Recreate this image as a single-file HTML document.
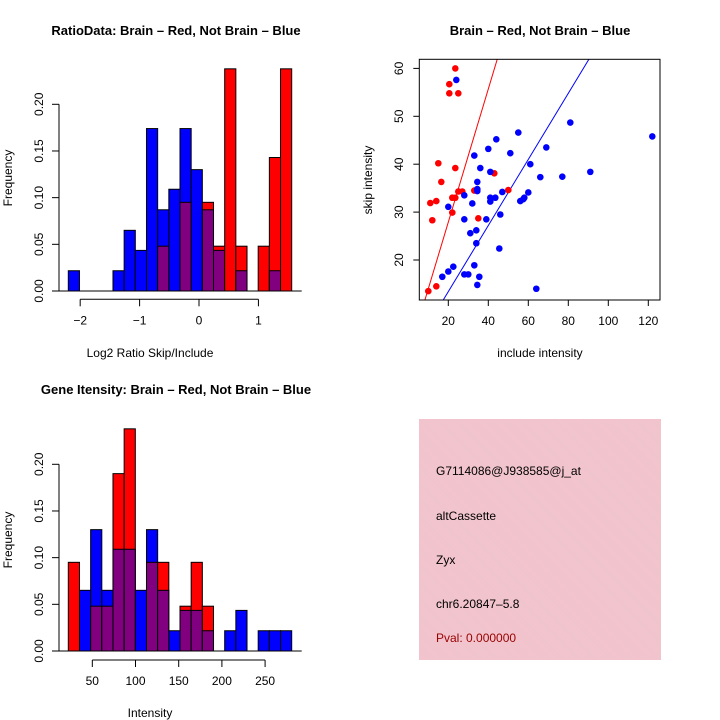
<!DOCTYPE html>
<html><head><meta charset="utf-8"><style>
body{margin:0;background:#fff;}
svg{display:block;font-family:"Liberation Sans",sans-serif;}
</style></head><body>
<svg id="c" width="720" height="720" xmlns="http://www.w3.org/2000/svg"></svg>
<script>
// Histogram 1: log2 ratio
const ratioBlue = [0.0217,0,0,0,0.0217,0.065,0.0435,0.174,0.087,0.109,0.174,0.130,0.087,0.0435,0,0.0217,0,0,0.0217,0];
const ratioRed  = [0,0,0,0,0,0,0,0,0.048,0,0.095,0,0.095,0.048,0.238,0.048,0,0.048,0.143,0.238];
const ratioStart = -2.2, ratioWidth = 0.188;
const ratioXTicks = [-2,-1,0,1];
// Histogram 2: intensity
const intBlue = [0,0.065,0.130,0.065,0.109,0.109,0.065,0.130,0.065,0.0217,0.0435,0.0435,0.0217,0,0.0217,0.0435,0,0.0217,0.0217,0.0217];
const intRed  = [0.095,0,0.048,0.048,0.190,0.238,0,0.095,0.095,0,0.048,0.095,0.048,0,0,0,0,0,0,0];
const intStart = 22.2, intWidth = 12.93;
const intXTicks = [50,100,150,200,250];
const freqTicks = [0,0.05,0.10,0.15,0.20];
const freqLabels = ["0.00","0.05","0.10","0.15","0.20"];
// Scatter
const redX = [23.5,20.5,20.5,25,15,23.5,16.5,43,25,27,33,50,22,23.5,11,14,12,22,35,10,14];
const redY = [60,56.7,54.8,54.8,40.2,39.2,36.3,38.1,34.3,34.3,34.5,34.6,33,33,31.9,32.3,28.3,29.9,28.7,13.5,14.5];
const blueX = [24,81,55,44,40,51,69,33,122,61,36,41,91,66,77,34.5,34.5,34.5,28,41,43.5,41,47,60,56,57.5,58,20,32,46,28,39,31,34,34,45.5,22.5,20,33,17,28,30,35.5,34.5,64];
const blueY = [57.6,48.7,46.6,45.2,43.2,42.3,43.5,41.8,45.8,40,39.2,38.4,38.4,37.3,37.4,36.3,34.8,34.4,33.5,33,33,32.2,34.2,34.1,32.3,32.7,33,31.1,31.8,29.5,28.5,28.5,25.6,26.2,23.5,22.4,18.6,17.6,18.9,16.5,17,17,16.5,14.8,14];
const redSlope = 1.39, redIntercept = 0.1;
const blueSlope = 0.69, blueIntercept = -0.4;
const scXTicks = [20,40,60,80,100,120];
const scYTicks = [20,30,40,50,60];

const svg = document.getElementById('c');
const NS = 'http://www.w3.org/2000/svg';
function mk(tag, attrs, parent){const e=document.createElementNS(NS,tag);for(const k in attrs)e.setAttribute(k,attrs[k]);(parent||svg).appendChild(e);return e;}
function txt(x,y,s,attrs){const e=mk('text',Object.assign({x:x,y:y,'font-size':12,'text-anchor':'middle',fill:'#000'},attrs||{}));e.textContent=s;return e;}

function hist(opts){
  const g = mk('g',{});
  
  
  const y0 = opts.y0, pxPerUnit = (opts.y0 - opts.y20)/0.20;
  const fy = v => y0 - v*pxPerUnit;
  const fx = v => opts.xPix0 + (v - opts.start)/opts.width*opts.binPx;
  for(let i=0;i<opts.blue.length;i++){
    const b=opts.blue[i], r=opts.red[i];
    const x = fx(opts.start + i*opts.width);
    const hi = Math.max(b,r), lo = Math.min(b,r);
    if(hi>0){
      const bar = mk('rect',{x:x,y:fy(hi),width:opts.binPx,height:fy(0)-fy(hi),fill:b>=r?'#0000ff':'#ff0000',stroke:'#000','stroke-width':1},g);
      
      
    }
    if(lo>0){
      const ov = mk('rect',{x:x,y:fy(lo),width:opts.binPx,height:fy(0)-fy(lo),fill:'#800080',stroke:'#000','stroke-width':1},g);
      
      
    }
  }
  mk('line',{x1:opts.xPix0-10,x2:opts.xPix0+opts.binPx*opts.blue.length+10,y1:y0,y2:y0,stroke:'#000'},g);
  mk('line',{x1:59,x2:59,y1:fy(0),y2:fy(0.2),stroke:'#000'},g);
  freqTicks.forEach((t,i)=>{
    mk('line',{x1:52,x2:59,y1:fy(t),y2:fy(t),stroke:'#000'},g);
    txt(0,0,freqLabels[i],{transform:`translate(43,${fy(t)}) rotate(-90)`});
  });
  const xa = opts.xaxisY;
  mk('line',{x1:fx(opts.xticks[0]),x2:fx(opts.xticks[opts.xticks.length-1]),y1:xa,y2:xa,stroke:'#000'},g);
  opts.xticks.forEach(t=>{
    mk('line',{x1:fx(t),x2:fx(t),y1:xa,y2:xa+7,stroke:'#000'},g);
    txt(fx(t),xa+25,String(t).replace('-','\u2212'));
  });
  txt(150,opts.xlabelY,opts.xlabel);
  txt(0,0,'Frequency',{transform:`translate(12,${opts.ylabelY}) rotate(-90)`});
  txt(176,opts.titleY,opts.title,{'font-weight':'bold','font-size':13});
}
hist({name:'ratio-histogram',blue:ratioBlue,red:ratioRed,start:ratioStart,width:ratioWidth,xPix0:68.3,binPx:11.17,y0:291,y20:104.3,xaxisY:299.3,xticks:ratioXTicks,xlabel:'Log2 Ratio Skip/Include',xlabelY:357,ylabelY:178,title:'RatioData: Brain – Red, Not Brain – Blue',titleY:35});
hist({name:'intensity-histogram',blue:intBlue,red:intRed,start:intStart,width:intWidth,xPix0:68.3,binPx:11.17,y0:651,y20:464.3,xaxisY:660,xticks:intXTicks,xlabel:'Intensity',xlabelY:717,ylabelY:540,title:'Gene Itensity: Brain – Red, Not Brain – Blue',titleY:394});

(function(){
  const g = mk('g',{});
  
  
  const L=419.3,R=660,T=59.3,B=300;
  const sx = v => 448.3 + (v-20)*2.0;
  const sy = v => 260 - (v-20)*4.79;
  const clip = mk('clipPath',{id:'sc'},g); mk('rect',{x:L,y:T,width:R-L,height:B-T},clip);
  const lines = mk('g',{'clip-path':'url(#sc)'},g);
  [[redSlope,redIntercept,'#ff0000','red-fit-line'],[blueSlope,blueIntercept,'#0000ff','blue-fit-line']].forEach(([m,b,c,n])=>{
    const l=mk('line',{x1:sx(0),y1:sy(b),x2:sx(130),y2:sy(m*130+b),stroke:c,'stroke-width':1},lines);
    
    
  });
  redX.forEach((x,i)=>{
    const p=mk('circle',{cx:sx(x),cy:sy(redY[i]),r:3.3,fill:'#ff0000'},g);
    
    
  });
  blueX.forEach((x,i)=>{
    const p=mk('circle',{cx:sx(x),cy:sy(blueY[i]),r:3.3,fill:'#0000ff'},g);
    
    
  });
  mk('rect',{x:L,y:T,width:R-L,height:B-T,fill:'none',stroke:'#000'},g);
  scXTicks.forEach(t=>{mk('line',{x1:sx(t),x2:sx(t),y1:B,y2:B+6,stroke:'#000'},g);txt(sx(t),B+25,String(t));});
  scYTicks.forEach(t=>{mk('line',{x1:L-6,x2:L,y1:sy(t),y2:sy(t),stroke:'#000'},g);txt(0,0,String(t),{transform:`translate(403,${sy(t)}) rotate(-90)`});});
  txt(540,357,'include intensity');
  txt(0,0,'skip intensity',{transform:`translate(372,180) rotate(-90)`});
  txt(540,35,'Brain – Red, Not Brain – Blue',{'font-weight':'bold','font-size':13});
})();
</script>
<div style="position:absolute;left:419px;top:419px;width:242px;height:241px;background:repeating-linear-gradient(45deg,#f4c0cb 0 1px,#efc8cf 1px 2px);font-family:'Liberation Sans',sans-serif;font-size:12px;">
<div style="position:absolute;left:17px;top:45px;">G7114086@J938585@j_at</div>
<div style="position:absolute;left:17px;top:90px;">altCassette</div>
<div style="position:absolute;left:17px;top:134px;">Zyx</div>
<div style="position:absolute;left:17px;top:178px;">chr6.20847–5.8</div>
<div style="position:absolute;left:17px;top:212px;color:#990000;">Pval: 0.000000</div>
</div>
</body></html>
